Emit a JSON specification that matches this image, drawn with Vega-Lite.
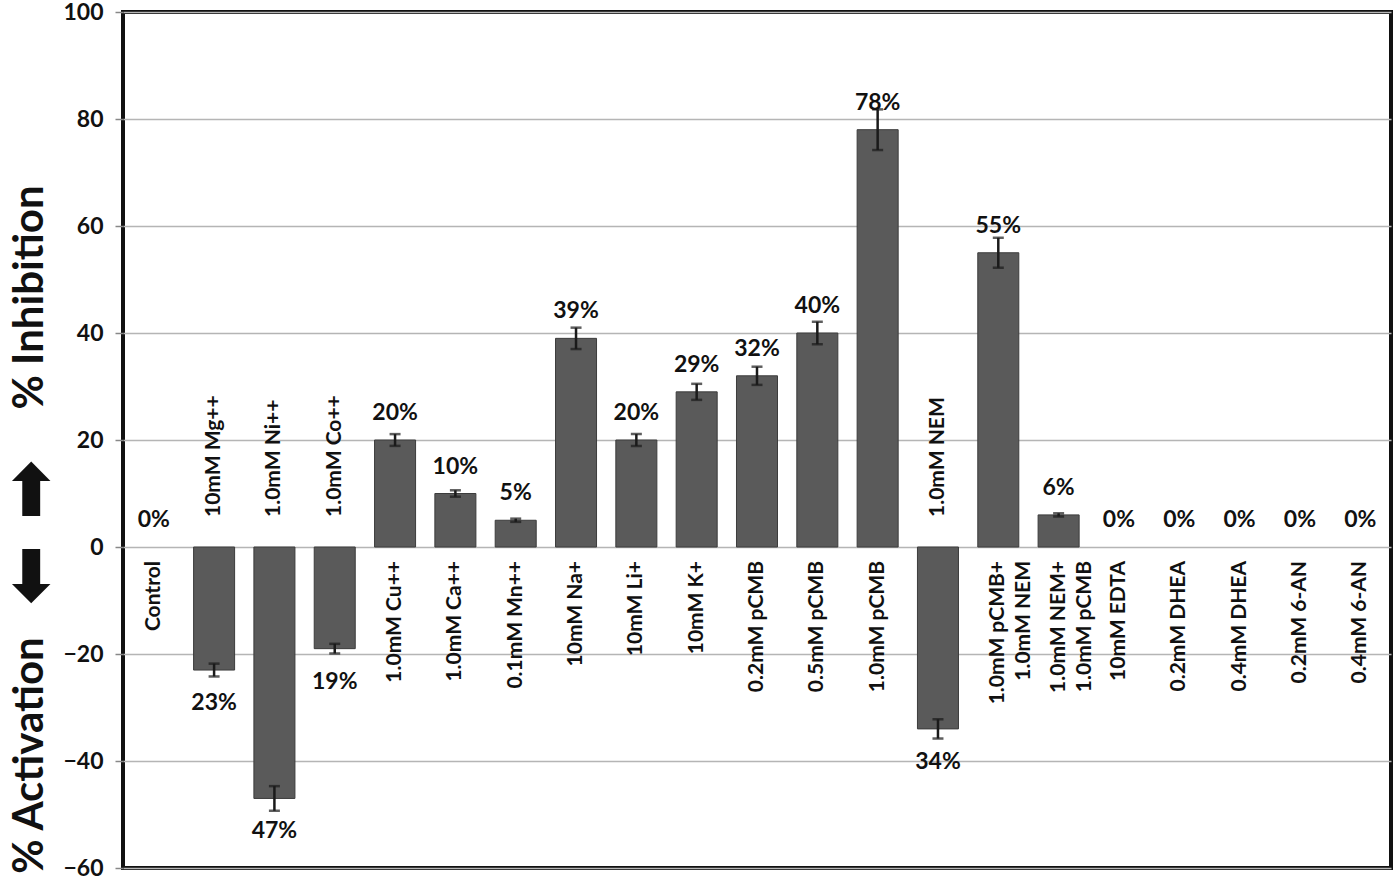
{
  "$schema": "https://vega.github.io/schema/vega-lite/v6.json",
  "autosize": {"type": "none"},
  "padding": {"left": 123, "top": 12, "right": 9, "bottom": 18},
  "width": 1268,
  "height": 856,
  "background": "white",
  "config": {
    "view": {"stroke": "#111", "strokeWidth": 4},
    "font": "Lato"
  },
  "data": {
    "values": [
      {"name": "Control", "label": "Control", "value": 0, "err": 0, "pct": "0%"},
      {"name": "10mM Mg++", "label": "10mM Mg++", "value": -23, "err": 1.2, "pct": "23%"},
      {"name": "1.0mM Ni++", "label": "1.0mM Ni++", "value": -47, "err": 2.3, "pct": "47%"},
      {"name": "1.0mM Co++", "label": "1.0mM Co++", "value": -19, "err": 0.9, "pct": "19%"},
      {"name": "1.0mM Cu++", "label": "1.0mM Cu++", "value": 20, "err": 1.1, "pct": "20%"},
      {"name": "1.0mM Ca++", "label": "1.0mM Ca++", "value": 10, "err": 0.6, "pct": "10%"},
      {"name": "0.1mM Mn++", "label": "0.1mM Mn++", "value": 5, "err": 0.3, "pct": "5%"},
      {"name": "10mM Na+", "label": "10mM Na+", "value": 39, "err": 2.0, "pct": "39%"},
      {"name": "10mM Li+", "label": "10mM Li+", "value": 20, "err": 1.1, "pct": "20%"},
      {"name": "10mM K+", "label": "10mM K+", "value": 29, "err": 1.5, "pct": "29%"},
      {"name": "0.2mM pCMB", "label": "0.2mM pCMB", "value": 32, "err": 1.7, "pct": "32%"},
      {"name": "0.5mM pCMB", "label": "0.5mM pCMB", "value": 40, "err": 2.1, "pct": "40%"},
      {"name": "1.0mM pCMB", "label": "1.0mM pCMB", "value": 78, "err": 3.8, "pct": "78%"},
      {"name": "1.0mM NEM", "label": "1.0mM NEM", "value": -34, "err": 1.8, "pct": "34%"},
      {"name": "1.0mM pCMB+ 1.0mM NEM", "label": "1.0mM pCMB+\n1.0mM NEM", "value": 55, "err": 2.8, "pct": "55%"},
      {"name": "1.0mM NEM+ 1.0mM pCMB", "label": "1.0mM NEM+\n1.0mM pCMB", "value": 6, "err": 0.3, "pct": "6%"},
      {"name": "10mM EDTA", "label": "10mM EDTA", "value": 0, "err": 0, "pct": "0%"},
      {"name": "0.2mM DHEA", "label": "0.2mM DHEA", "value": 0, "err": 0, "pct": "0%"},
      {"name": "0.4mM DHEA", "label": "0.4mM DHEA", "value": 0, "err": 0, "pct": "0%"},
      {"name": "0.2mM 6-AN", "label": "0.2mM 6-AN", "value": 0, "err": 0, "pct": "0%"},
      {"name": "0.4mM 6-AN", "label": "0.4mM 6-AN", "value": 0, "err": 0, "pct": "0%"}
    ]
  },
  "encoding": {
    "x": {
      "field": "name",
      "type": "nominal",
      "axis": null,
      "scale": {
        "domain": ["Control", "10mM Mg++", "1.0mM Ni++", "1.0mM Co++", "1.0mM Cu++", "1.0mM Ca++", "0.1mM Mn++", "10mM Na+", "10mM Li+", "10mM K+", "0.2mM pCMB", "0.5mM pCMB", "1.0mM pCMB", "1.0mM NEM", "1.0mM pCMB+ 1.0mM NEM", "1.0mM NEM+ 1.0mM pCMB", "10mM EDTA", "0.2mM DHEA", "0.4mM DHEA", "0.2mM 6-AN", "0.4mM 6-AN"],
        "paddingInner": 0.32,
        "paddingOuter": 0.17
      }
    }
  },
  "resolve": {"scale": {"y": "independent"}, "axis": {"y": "independent"}},
  "layer": [
    {
      "transform": [{"filter": "datum.value != 0"}],
      "mark": {"type": "bar", "color": "#5a5a5a", "stroke": "#3c3c3c", "strokeWidth": 1},
      "encoding": {
        "y": {
          "field": "value",
          "type": "quantitative",
          "title": "% Activation",
          "scale": {"domain": [-60, 100], "nice": false, "zero": false},
          "axis": {
            "orient": "left",
            "values": [-60, -40, -20, 0, 20, 40, 60, 80, 100],
            "grid": true,
            "gridColor": "#b5b5b5",
            "gridWidth": 1.5,
            "domain": false,
            "tickSize": 8,
            "tickColor": "#888",
            "tickWidth": 1.5,
            "labelFont": "Lato",
            "labelFontWeight": "bold",
            "labelFontSize": 23,
            "labelColor": "#111",
            "labelPadding": 12,
            "titleFont": "Lato",
            "titleFontWeight": "bold",
            "titleFontSize": 42,
            "titleColor": "#111",
            "titleBaseline": "middle",
            "titleX": -94,
            "titleY": 743
          }
        }
      }
    },
    {
      "transform": [{"filter": "datum.value != 0"}],
      "mark": {"type": "errorbar", "ticks": {"size": 11, "thickness": 2.5, "color": "#1a1a1a"}, "thickness": 2.5, "color": "#1a1a1a"},
      "encoding": {
        "y": {
          "field": "value",
          "type": "quantitative",
          "title": "% Inhibition",
          "scale": {"domain": [-60, 100], "nice": false, "zero": false},
          "axis": {
            "orient": "left",
            "labels": false,
            "ticks": false,
            "domain": false,
            "grid": false,
            "titleFont": "Lato",
            "titleFontWeight": "bold",
            "titleFontSize": 42,
            "titleColor": "#111",
            "titleBaseline": "middle",
            "titleX": -94,
            "titleY": 285
          }
        },
        "yError": {"field": "err"}
      }
    },
    {
      "transform": [{"filter": "datum.value >= 0"}],
      "mark": {"type": "text", "baseline": "bottom", "dy": -15, "font": "Lato", "fontWeight": "bold", "fontSize": 23, "color": "#111"},
      "encoding": {
        "y": {
          "field": "value",
          "type": "quantitative",
          "title": "⬅ ➡",
          "scale": {"domain": [-60, 100], "nice": false, "zero": false},
          "axis": {
            "orient": "left",
            "labels": false,
            "ticks": false,
            "domain": false,
            "grid": false,
            "titleFont": "DejaVu Sans",
            "titleFontWeight": "bold",
            "titleFontSize": 72,
            "titleColor": "#111",
            "titleBaseline": "middle",
            "titleX": -92,
            "titleY": 520
          }
        },
        "text": {"field": "pct"}
      }
    },
    {
      "transform": [{"filter": "datum.value < 0"}],
      "mark": {"type": "text", "baseline": "top", "dy": 22, "font": "Lato", "fontWeight": "bold", "fontSize": 23, "color": "#111"},
      "encoding": {
        "y": {"field": "value", "type": "quantitative", "scale": {"domain": [-60, 100], "nice": false, "zero": false}, "axis": null},
        "text": {"field": "pct"}
      }
    },
    {
      "transform": [{"filter": "datum.value >= 0"}],
      "mark": {"type": "text", "angle": -90, "align": "right", "baseline": "middle", "dx": -14, "lineBreak": "\n", "lineHeight": 26, "font": "Lato", "fontWeight": "bold", "fontSize": 21, "color": "#111"},
      "encoding": {
        "y": {"datum": 0, "type": "quantitative", "scale": {"domain": [-60, 100], "nice": false, "zero": false}, "axis": null},
        "text": {"field": "label"}
      }
    },
    {
      "transform": [{"filter": "datum.value < 0"}],
      "mark": {"type": "text", "angle": -90, "align": "left", "baseline": "middle", "dx": 30, "lineBreak": "\n", "lineHeight": 26, "font": "Lato", "fontWeight": "bold", "fontSize": 21, "color": "#111"},
      "encoding": {
        "y": {"datum": 0, "type": "quantitative", "scale": {"domain": [-60, 100], "nice": false, "zero": false}, "axis": null},
        "text": {"field": "label"}
      }
    }
  ]
}
